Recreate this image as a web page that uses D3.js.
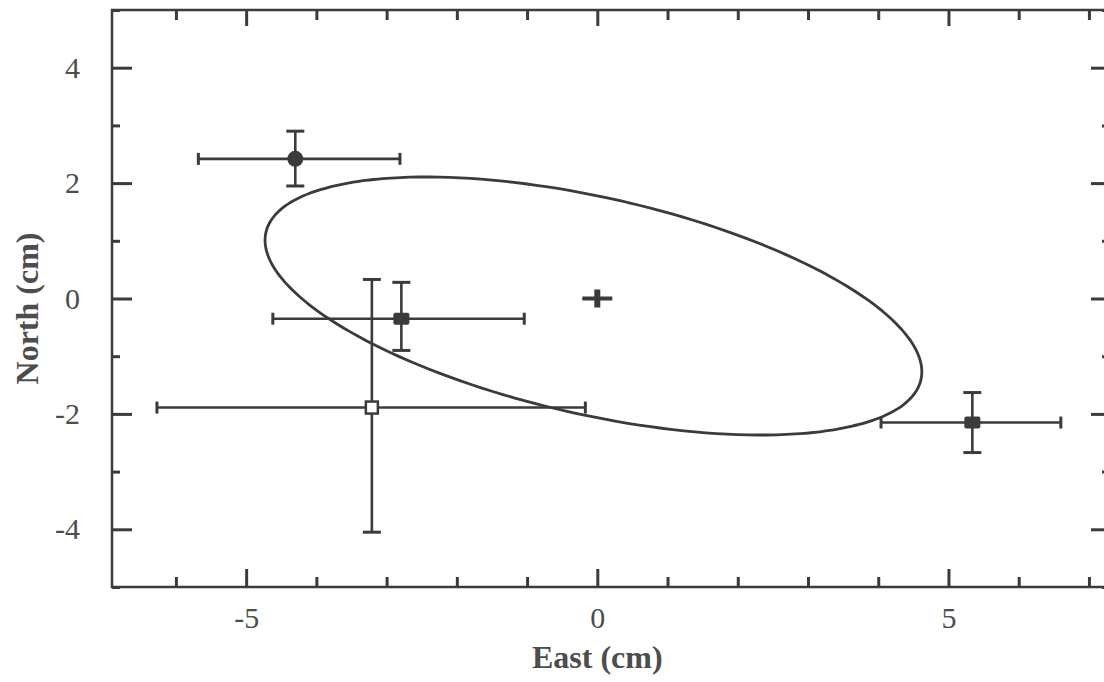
<!DOCTYPE html>
<html><head><meta charset="utf-8">
<script src="https://cdn.jsdelivr.net/npm/d3@7"></script>
<style>
body{margin:0;background:#fff;}
svg{display:block;}
</style></head>
<body>
<svg id="chart" width="1104" height="682"></svg>
<script>
// ---- data ----
const xMajorTicks = [-5, 0, 5];
const xMinorTicks = [-6, -4, -3, -2, -1, 1, 2, 3, 4, 6, 7];
const yMajorTicks = [-4, -2, 0, 2, 4];
const yMinorTicks = [-5, -3, -1, 1, 3, 5];
const pointX    = [-4.30, -2.79, -3.21, 5.34];
const pointY    = [ 2.42, -0.35, -1.89, -2.15];
const xErrLow   = [-5.68, -4.62, -6.27, 4.04];
const xErrHigh  = [-2.81, -1.04, -0.17, 6.60];
const yErrLow   = [ 1.95, -0.90, -4.05, -2.67];
const yErrHigh  = [ 2.90,  0.28,  0.33, -1.63];
const markers   = ["circle", "square", "open", "square"];
const centerPt  = [0, 0];
// ellipse as covariance-like terms (cm^2)
const ellipseCenter = [-0.055, -0.13];
const ellipseSxx = 21.86, ellipseSyy = 5.0, ellipseSxy = -5.33;
const xTitle = "East (cm)", yTitle = "North (cm)";

// ---- layout ----
const L = 112, R = 1110, T = 10, B = 587;
const x = d3.scaleLinear().domain([-6.91, 7.30]).range([L, R]);
const y = d3.scaleLinear().domain([-5, 5]).range([B, T]);
const ink = "#3b3b3b", txt = "#4d4d4d";
const svg = d3.select("#chart");
const serif = "'Liberation Serif','Times New Roman',serif";
const fmt = d => String(d);

// frame
svg.append("rect").attr("x", L).attr("y", T).attr("width", R - L).attr("height", B - T)
  .attr("fill", "none").attr("stroke", ink).attr("stroke-width", 2.5);

function styleAxis(g) {
  g.select(".domain").remove();
  g.selectAll(".tick line").attr("stroke", ink).attr("stroke-width", 3);
  g.selectAll(".tick text").attr("fill", txt).attr("font-family", serif).attr("font-size", 30);
}
// bottom
svg.append("g").attr("transform", `translate(0,${B})`)
  .call(d3.axisBottom(x).tickValues(xMinorTicks).tickSize(-10).tickFormat("")).call(styleAxis);
svg.append("g").attr("transform", `translate(0,${B})`)
  .call(d3.axisBottom(x).tickValues(xMajorTicks).tickSize(-18).tickPadding(20).tickFormat(fmt))
  .call(styleAxis);
// top
svg.append("g").attr("transform", `translate(0,${T})`)
  .call(d3.axisTop(x).tickValues(xMinorTicks).tickSize(-10).tickFormat("")).call(styleAxis);
svg.append("g").attr("transform", `translate(0,${T})`)
  .call(d3.axisTop(x).tickValues(xMajorTicks).tickSize(-16).tickFormat("")).call(styleAxis);
// left
svg.append("g").attr("transform", `translate(${L},0)`)
  .call(d3.axisLeft(y).tickValues(yMinorTicks).tickSize(-8).tickFormat("")).call(styleAxis);
svg.append("g").attr("transform", `translate(${L},0)`)
  .call(d3.axisLeft(y).tickValues(yMajorTicks).tickSize(-20).tickPadding(32).tickFormat(fmt))
  .call(styleAxis);
// right
svg.append("g").attr("transform", `translate(${R},0)`)
  .call(d3.axisRight(y).tickValues(yMinorTicks).tickSize(-8).tickFormat("")).call(styleAxis);
svg.append("g").attr("transform", `translate(${R},0)`)
  .call(d3.axisRight(y).tickValues(yMajorTicks).tickSize(-19).tickFormat("")).call(styleAxis);

// axis titles
svg.append("text").attr("x", x(0)).attr("y", 668).attr("text-anchor", "middle")
  .attr("font-family", serif).attr("font-weight", "bold").attr("font-size", 32).attr("fill", txt).text(xTitle);
svg.append("text").attr("transform", `translate(38,${y(0) + 10}) rotate(-90)`).attr("text-anchor", "middle")
  .attr("font-family", serif).attr("font-weight", "bold").attr("font-size", 32).attr("fill", txt).text(yTitle);

// ellipse
const sx = Math.sqrt(ellipseSxx);
const k = ellipseSxy / sx;
const m = Math.sqrt(ellipseSyy - k * k);
const ell = d3.range(0, 360, 2).map(a => {
  const t = a * Math.PI / 180;
  return [ellipseCenter[0] + sx * Math.cos(t), ellipseCenter[1] + k * Math.cos(t) + m * Math.sin(t)];
});
svg.append("path").datum(ell)
  .attr("d", d3.line().x(d => x(d[0])).y(d => y(d[1])).curve(d3.curveCardinalClosed))
  .attr("fill", "none").attr("stroke", ink).attr("stroke-width", 2.8);

// error bars
const g = svg.append("g").attr("stroke", ink).attr("stroke-width", 2.6).attr("fill", "none");
pointX.forEach((px, i) => {
  const cx = x(px), cy = y(pointY[i]);
  g.append("line").attr("x1", x(xErrLow[i])).attr("x2", x(xErrHigh[i])).attr("y1", cy).attr("y2", cy);
  g.append("line").attr("x1", cx).attr("x2", cx).attr("y1", y(yErrLow[i])).attr("y2", y(yErrHigh[i]));
  [xErrLow[i], xErrHigh[i]].forEach(v =>
    g.append("line").attr("x1", x(v)).attr("x2", x(v)).attr("y1", cy - 6).attr("y2", cy + 6).attr("stroke-width", 3));
  [yErrLow[i], yErrHigh[i]].forEach(v =>
    g.append("line").attr("x1", cx - 9).attr("x2", cx + 9).attr("y1", y(v)).attr("y2", y(v)).attr("stroke-width", 3));
  if (markers[i] === "circle") {
    svg.append("circle").attr("cx", cx).attr("cy", cy).attr("r", 8).attr("fill", ink);
  } else if (markers[i] === "square") {
    svg.append("rect").attr("x", cx - 8).attr("y", cy - 6).attr("width", 16).attr("height", 12)
      .attr("rx", 2).attr("fill", ink);
  } else {
    svg.append("rect").attr("x", cx - 6).attr("y", cy - 6).attr("width", 12).attr("height", 12)
      .attr("fill", "#fff").attr("stroke", ink).attr("stroke-width", 2.5);
  }
});
// center plus
const pc = [x(centerPt[0]), y(centerPt[1])];
svg.append("line").attr("x1", pc[0] - 15).attr("x2", pc[0] + 15).attr("y1", pc[1]).attr("y2", pc[1])
  .attr("stroke", ink).attr("stroke-width", 4);
svg.append("line").attr("x1", pc[0]).attr("x2", pc[0]).attr("y1", pc[1] - 9).attr("y2", pc[1] + 9)
  .attr("stroke", ink).attr("stroke-width", 6);
</script>
</body></html>
